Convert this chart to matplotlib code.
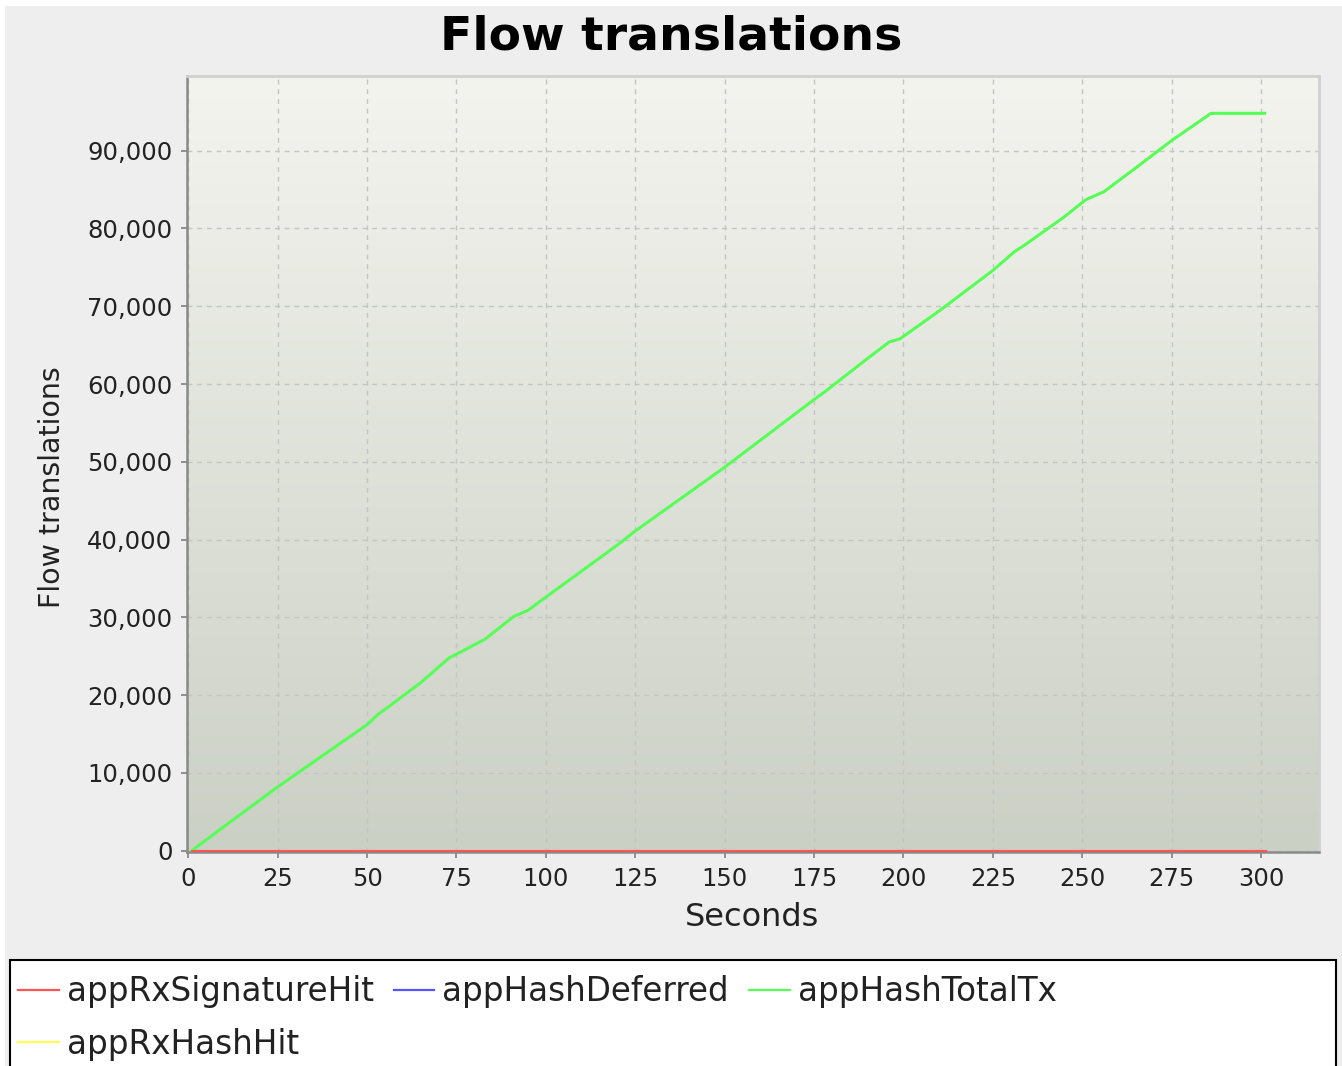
import numpy as np
import matplotlib
matplotlib.use("Agg")
import matplotlib.pyplot as plt
from matplotlib.patches import Rectangle

# data (seconds, flow translations)
seconds = [1, 10, 25, 40, 50, 53, 56, 65, 73, 76, 83, 91, 95, 100, 120, 125,
           150, 175, 178, 190, 196, 199, 210, 225, 231, 234, 245, 251, 256,
           265, 275, 286, 301]
hash_total_tx = [0, 3100, 8200, 13000, 16200, 17500, 18500, 21600, 24800,
                 25500, 27200, 30100, 30900, 32600, 39300, 41100, 49300, 58000,
                 59000, 63300, 65400, 65800, 69400, 74600, 77000, 77900, 81500,
                 83700, 84700, 87800, 91300, 94800, 94800]
flat_seconds = [1, 301]
rx_signature_hit = [0, 0]
hash_deferred = [0, 0]
rx_hash_hit = [0, 0]

series_labels = ["appRxSignatureHit", "appHashDeferred", "appHashTotalTx", "appRxHashHit"]
COLORS = ["#FF5555", "#5555FF", "#55FF55", "#FFFF55"]

W, H = 1342, 1066
fig = plt.figure(figsize=(W / 100, H / 100), dpi=100, facecolor="white")

# grey chart panel with thin white margin on top/left
fig.patches.append(Rectangle((5 / W, 0), 1, 1 - 6 / H, transform=fig.transFigure,
                             facecolor="#EEEEEE", edgecolor="none", zorder=-10))

ax = fig.add_axes([187 / W, 1 - 852 / H, (1319 - 187) / W, (852 - 76) / H])
ax.set_facecolor("none")

# vertical gradient background of the plot area
top = np.array([243, 244, 238]) / 255
bot = np.array([203, 208, 197]) / 255
t = np.linspace(0, 1, 256)[:, None]
grad = (top * (1 - t) + bot * t)[:, None, :]
ax.imshow(grad, aspect="auto", extent=(0, 1, 0, 1), transform=ax.transAxes,
          zorder=-5, interpolation="bilinear")

ax.plot(seconds, hash_total_tx, color=COLORS[2], lw=2.2, zorder=3)
ax.plot(flat_seconds, rx_hash_hit, color=COLORS[3], lw=2.2, zorder=2)
ax.plot(flat_seconds, hash_deferred, color=COLORS[1], lw=2.2, zorder=2.5)
ax.plot(flat_seconds, rx_signature_hit, color=COLORS[0], lw=2.2, zorder=4)

ax.set_xlim(-0.36, 316.2)
ax.set_ylim(-170, 99600)
ax.set_xticks(np.arange(0, 301, 25))
ax.set_yticks(np.arange(0, 90001, 10000))
ax.set_yticklabels([f"{v:,}" for v in range(0, 90001, 10000)])
ax.tick_params(axis="both", labelsize=17.5, colors="#808080", labelcolor="#222222",
               length=4.5, width=1.2, pad=6)
ax.grid(True, color="#C4C4C4", linestyle=(0, (3.5, 3.5)), linewidth=1.0)
ax.set_axisbelow(True)

for side in ["left", "bottom"]:
    ax.spines[side].set_color("#8A8A8A")
    ax.spines[side].set_linewidth(1.8)
for side in ["top", "right"]:
    ax.spines[side].set_color("#D0D0D0")
    ax.spines[side].set_linewidth(2.0)

fig.text(0.5, 1 - 37 / H, "Flow translations", ha="center", va="center",
         fontsize=34, fontweight="bold", color="black")
fig.text(752 / W, 1 - 917 / H, "Seconds", ha="center", va="center",
         fontsize=23, color="#222222")
fig.text(52 / W, 1 - 487 / H, "Flow translations", ha="center", va="center",
         rotation=90, fontsize=20.5, color="#222222")

# legend box spanning the full width at the bottom
fig.patches.append(Rectangle((10 / W, -0.05), (1336 - 10) / W, 0.05 + 1 - 960 / H,
                             transform=fig.transFigure, facecolor="white",
                             edgecolor="black", linewidth=1.5, zorder=1))
# legend fills column by column, so reorder to read row by row
order = [0, 3, 1, 2]
handles = [plt.Line2D([], [], color=COLORS[i], lw=1.6) for i in order]
labels = [series_labels[i] for i in order]
leg = fig.legend(handles, labels, loc="upper left",
                 bbox_to_anchor=(18 / W, 1 - 975 / H), ncol=3, frameon=False,
                 fontsize=23.5, handlelength=1.25, handletextpad=0.25,
                 columnspacing=0.6, labelspacing=0.6, borderpad=0,
                 borderaxespad=0)
leg.set_zorder(5)
for txt in leg.get_texts():
    txt.set_color("#222222")

fig.savefig("out.png", dpi=100, facecolor=fig.get_facecolor())
